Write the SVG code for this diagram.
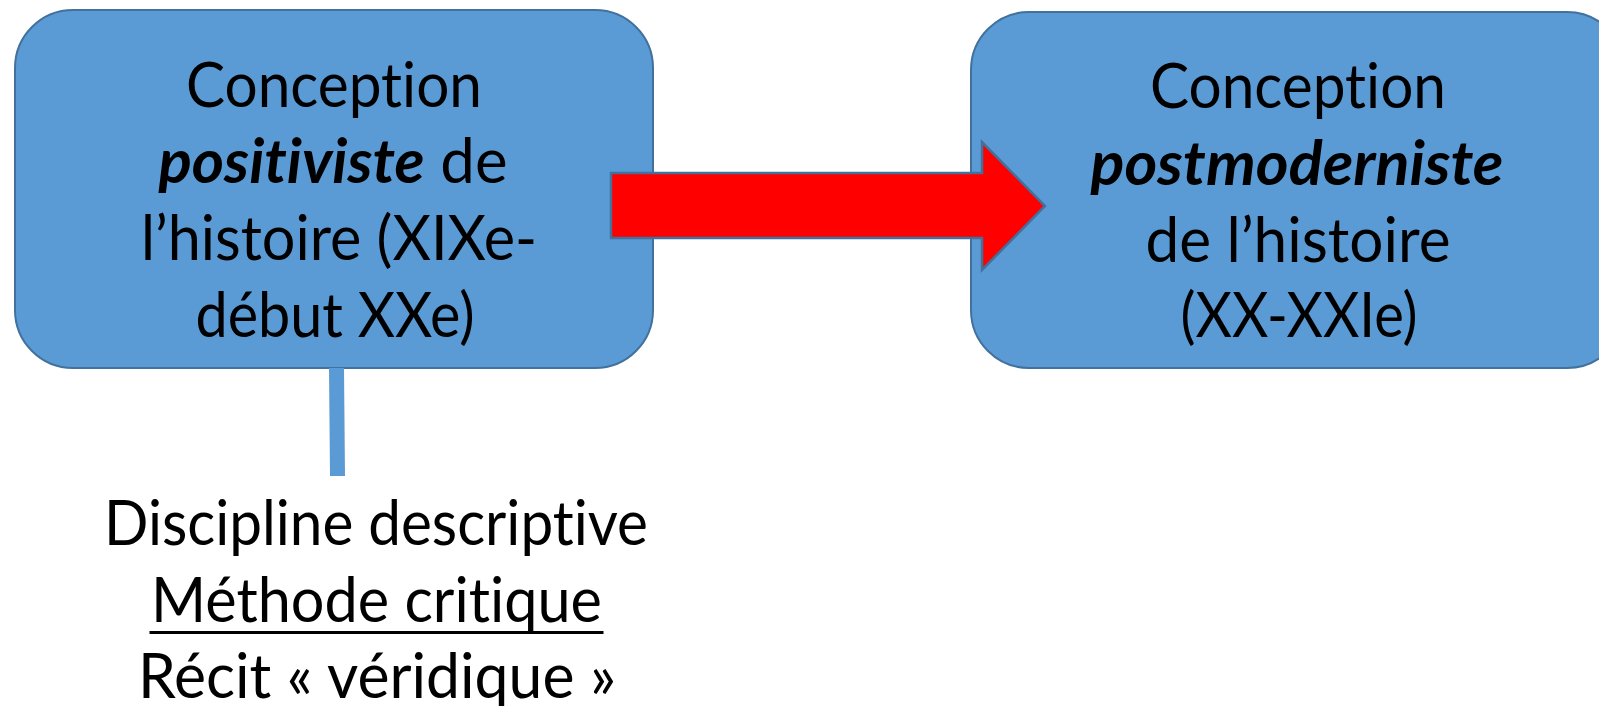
<svg xmlns="http://www.w3.org/2000/svg" width="1599" height="706" viewBox="0 0 1599 706">
  <style>
    .box { fill: #5B9BD5; stroke: #41719C; stroke-width: 2; }
    .arrow { fill: #FF0000; stroke: #41719C; stroke-width: 2.5; stroke-linejoin: miter; }
    .link { stroke: #5B9BD5; stroke-width: 15; fill: none; }
    .t { font-family: Lato, "Open Sans", "Liberation Sans", sans-serif; font-size: 62px; fill: #000; text-anchor: middle; font-variant-ligatures: none; font-feature-settings: "liga" 0, "clig" 0; }
    .bi { font-weight: bold; font-style: italic; }
  </style>
  <rect width="1599" height="706" fill="#FFFFFF"/>

  <g id="node-positiviste">
    <rect class="box" x="15" y="10" width="638" height="358" rx="58" ry="58"/>
    <text class="t" x="334" y="107" textLength="296" lengthAdjust="spacingAndGlyphs">Conception</text>
    <text class="t" x="333" y="183" textLength="349" lengthAdjust="spacingAndGlyphs"><tspan class="bi">positiviste</tspan> de</text>
    <text class="t" x="339" y="260" textLength="396" lengthAdjust="spacingAndGlyphs">l’histoire (XIXe-</text>
    <text class="t" x="335" y="337" textLength="279" lengthAdjust="spacingAndGlyphs">début XXe)</text>
  </g>

  <g id="node-postmoderniste">
    <rect class="box" x="971" y="12" width="654" height="356" rx="58" ry="58"/>
    <text class="t" x="1298" y="108" textLength="296" lengthAdjust="spacingAndGlyphs">Conception</text>
    <text class="t bi" x="1297" y="185" textLength="413" lengthAdjust="spacingAndGlyphs">postmoderniste</text>
    <text class="t" x="1298" y="262" textLength="305" lengthAdjust="spacingAndGlyphs">de l’histoire</text>
    <text class="t" x="1299" y="337" textLength="237" lengthAdjust="spacingAndGlyphs">(XX-XXIe)</text>
  </g>

  <g id="node-methode">
    <text class="t" x="376" y="545" textLength="544" lengthAdjust="spacingAndGlyphs">Discipline descriptive</text>
    <text class="t" x="376.5" y="622" textLength="451" lengthAdjust="spacingAndGlyphs">Méthode critique</text>
    <line x1="149.5" y1="632.5" x2="603.5" y2="632.5" stroke="#000" stroke-width="3"/>
    <text class="t" x="377" y="698" textLength="478" lengthAdjust="spacingAndGlyphs">Récit « véridique »</text>
  </g>

  <g id="connectors">
    <line class="link" x1="336.5" y1="368" x2="337.5" y2="476"/>
    <polygon id="arrow" class="arrow" points="611,173 982,173 982,142 1045,206 982,270 982,238 611,238"/>
  </g>
</svg>
